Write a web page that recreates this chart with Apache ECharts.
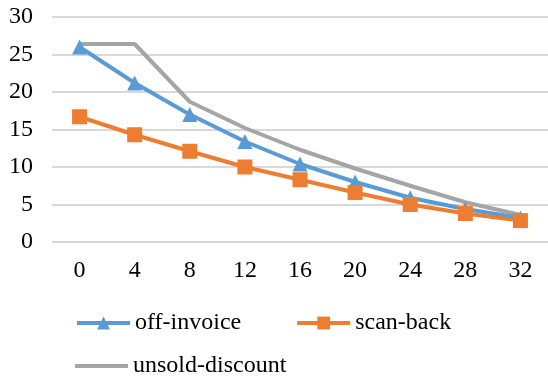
<!DOCTYPE html>
<html>
<head>
<meta charset="utf-8">
<script src="https://cdn.jsdelivr.net/npm/echarts@6/dist/echarts.min.js"></script>
<style>
  html, body { margin: 0; padding: 0; background: #fff; }
  #chart { width: 548px; height: 379px; }
</style>
</head>
<body>
<div id="chart"></div>
<script>
// Category axis labels
const categories = ['0', '4', '8', '12', '16', '20', '24', '28', '32'];

// Series values
const offInvoice = [26.0, 21.2, 17.0, 13.4, 10.4, 8.0, 5.9, 4.4, 3.2];
const scanBack = [16.7, 14.3, 12.1, 10.0, 8.3, 6.6, 5.0, 3.8, 2.85];
const unsoldDiscount = [26.4, 26.4, 18.7, 15.2, 12.3, 9.8, 7.5, 5.3, 3.6];

const FONT = '"Liberation Serif", "Times New Roman", serif';
const BLUE = '#5B9BD5';
const ORANGE = '#ED7D31';
const GRAY = '#A5A5A5';

const chart = echarts.init(document.getElementById('chart'), null, { renderer: 'canvas' });

const legendText = { fontFamily: FONT, fontSize: 24, color: '#000' };

chart.setOption({
  animation: false,
  backgroundColor: '#ffffff',
  grid: { left: 52, width: 500, top: 17, height: 225, containLabel: false },
  legend: [
    {
      data: ['off-invoice', 'scan-back'],
      left: 75,
      top: 311,
      padding: 0,
      orient: 'horizontal',
      itemWidth: 53,
      itemHeight: 16,
      itemGap: 54,
      lineStyle: { width: 4 },
      textStyle: legendText
    },
    {
      data: [{ name: 'unsold-discount', icon: 'rect' }],
      left: 75,
      top: 354,
      padding: 0,
      itemWidth: 53,
      itemHeight: 4,
      textStyle: legendText
    }
  ],
  xAxis: {
    type: 'category',
    data: categories,
    boundaryGap: true,
    axisLine: { show: false },
    axisTick: { show: false },
    axisLabel: { fontFamily: FONT, fontSize: 24, color: '#000', margin: 17 }
  },
  yAxis: {
    type: 'value',
    min: 0,
    max: 30,
    interval: 5,
    axisLine: { show: false },
    axisTick: { show: false },
    axisLabel: { fontFamily: FONT, fontSize: 24, color: '#000', margin: 19 },
    splitLine: { lineStyle: { color: '#D9D9D9', width: 2 } }
  },
  series: [
    {
      name: 'unsold-discount',
      type: 'line',
      data: unsoldDiscount,
      showSymbol: false,
      symbol: 'none',
      lineStyle: { color: GRAY, width: 4 },
      itemStyle: { color: GRAY },
      z: 2
    },
    {
      name: 'off-invoice',
      type: 'line',
      data: offInvoice,
      symbol: 'triangle',
      symbolSize: 15,
      lineStyle: { color: BLUE, width: 4 },
      itemStyle: { color: BLUE },
      z: 3
    },
    {
      name: 'scan-back',
      type: 'line',
      data: scanBack,
      symbol: 'rect',
      symbolSize: 15,
      lineStyle: { color: ORANGE, width: 4 },
      itemStyle: { color: ORANGE },
      z: 4
    }
  ]
});
</script>
</body>
</html>
